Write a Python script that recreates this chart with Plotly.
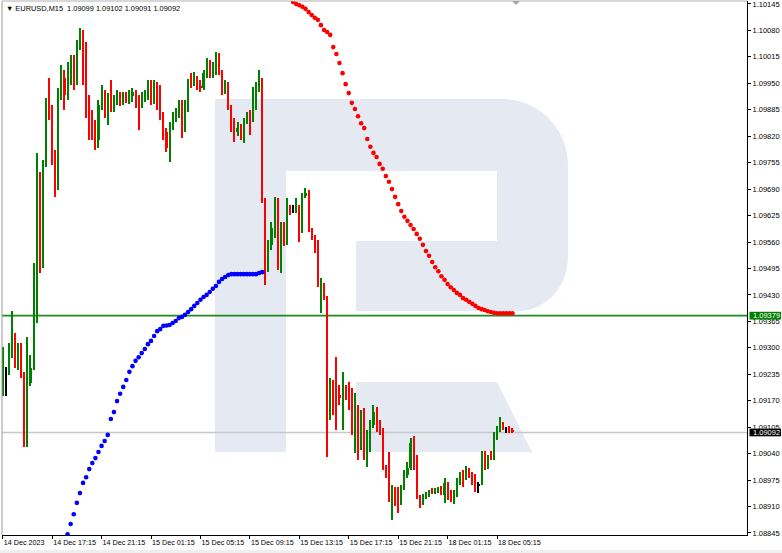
import plotly.graph_objects as go

# ---------------- data (EURUSD M15, bar index 0 = 14 Dec 2023 13:15) ----------------
opens = [1.09189, 1.09242, 1.09238, 1.09287, 1.09324, 1.09255, 1.09268, 1.09231, 1.09059, 1.09214,
         1.09250, 1.09381, 1.09661, 1.09503, 1.09749, 1.09902, 1.09872, 1.09762, 1.09700, 1.09921,
         1.09963, 1.09921, 1.09978, 1.10007, 1.09958, 1.10044, 1.10056, 1.09958, 1.09884, 1.09848,
         1.09828, 1.09811, 1.09897, 1.09921, 1.09884, 1.09909, 1.09889, 1.09909, 1.09916, 1.09904,
         1.09914, 1.09909, 1.09919, 1.09929, 1.09904, 1.09899, 1.09914, 1.09919, 1.09934, 1.09909,
         1.09941, 1.09909, 1.09867, 1.09830, 1.09791, 1.09848, 1.09865, 1.09877, 1.09897, 1.09840,
         1.09884, 1.09953, 1.09948, 1.09963, 1.09943, 1.09939, 1.09975, 1.10000, 1.09978, 1.09983,
         1.10022, 1.09975, 1.09929, 1.09948, 1.09889, 1.09840, 1.09830, 1.09840, 1.09820, 1.09860,
         1.09869, 1.09860, 1.09929, 1.09939, 1.09958, 1.09663, 1.09508, 1.09553, 1.09594, 1.09626,
         1.09496, 1.09597, 1.09558, 1.09644, 1.09641, 1.09639, 1.09644, 1.09602, 1.09673, 1.09681,
         1.09589, 1.09570, 1.09555, 1.09425, 1.09454, 1.09422, 1.09135, 1.09209, 1.09191, 1.09184,
         1.09177, 1.09196, 1.09184, 1.09164, 1.09091, 1.09147, 1.09066, 1.09135, 1.09032, 1.09074,
         1.09110, 1.09142, 1.09103, 1.09098, 1.09004, 1.08987, 1.08926, 1.08930, 1.08919, 1.08919,
         1.08955, 1.08987, 1.09004, 1.09068, 1.09004, 1.08933, 1.08919, 1.08933, 1.08938, 1.08950,
         1.08945, 1.08948, 1.08953, 1.08938, 1.08963, 1.08945, 1.08921, 1.08938, 1.08968, 1.08987,
         1.08982, 1.08999, 1.08987, 1.08982, 1.08963, 1.08968, 1.09041, 1.09007, 1.09041, 1.09029,
         1.09078, 1.09098, 1.09110, 1.09098, 1.09103, 1.09099]
highs = [1.09302, 1.09253, 1.09312, 1.09390, 1.09336, 1.09312, 1.09312, 1.09241, 1.09327, 1.09282,
         1.09508, 1.09779, 1.09732, 1.09762, 1.09914, 1.09963, 1.09897, 1.09786, 1.09939, 1.09995,
         1.09983, 1.10002, 1.10020, 1.10020, 1.10056, 1.10086, 1.10081, 1.10052, 1.09921, 1.09884,
         1.09860, 1.09909, 1.09946, 1.09934, 1.09926, 1.09958, 1.09921, 1.09934, 1.09929, 1.09929,
         1.09929, 1.09934, 1.09939, 1.09934, 1.09921, 1.09929, 1.09934, 1.09958, 1.09958, 1.09958,
         1.09953, 1.09946, 1.09879, 1.09840, 1.09855, 1.09879, 1.09889, 1.09909, 1.09909, 1.09909,
         1.09961, 1.09975, 1.09978, 1.09968, 1.09958, 1.09983, 1.10012, 1.10007, 1.10002, 1.10027,
         1.10025, 1.09983, 1.09958, 1.09953, 1.09897, 1.09865, 1.09855, 1.09850, 1.09865, 1.09879,
         1.09884, 1.09941, 1.09953, 1.09983, 1.09963, 1.09668, 1.09565, 1.09609, 1.09671, 1.09668,
         1.09609, 1.09609, 1.09668, 1.09651, 1.09651, 1.09668, 1.09651, 1.09681, 1.09693, 1.09688,
         1.09594, 1.09577, 1.09565, 1.09471, 1.09459, 1.09427, 1.09226, 1.09221, 1.09277, 1.09209,
         1.09241, 1.09209, 1.09216, 1.09201, 1.09189, 1.09159, 1.09147, 1.09152, 1.09098, 1.09123,
         1.09159, 1.09155, 1.09123, 1.09103, 1.09012, 1.09044, 1.08963, 1.08958, 1.08958, 1.08963,
         1.08999, 1.09019, 1.09078, 1.09083, 1.09036, 1.08938, 1.08940, 1.08945, 1.08950, 1.08955,
         1.08955, 1.08958, 1.08960, 1.08980, 1.08970, 1.08950, 1.08950, 1.08980, 1.08994, 1.08999,
         1.09009, 1.09004, 1.08994, 1.08990, 1.08970, 1.09046, 1.09046, 1.09036, 1.09046, 1.09093,
         1.09108, 1.09130, 1.09118, 1.09105, 1.09108, 1.09102]
lows = [1.09182, 1.09182, 1.09233, 1.09275, 1.09250, 1.09246, 1.09226, 1.09056, 1.09056, 1.09206,
        1.09246, 1.09361, 1.09484, 1.09496, 1.09744, 1.09860, 1.09749, 1.09671, 1.09688, 1.09909,
        1.09884, 1.09909, 1.09946, 1.09934, 1.09946, 1.10032, 1.09946, 1.09865, 1.09811, 1.09811,
        1.09786, 1.09791, 1.09884, 1.09865, 1.09848, 1.09879, 1.09879, 1.09897, 1.09894, 1.09897,
        1.09902, 1.09899, 1.09904, 1.09889, 1.09835, 1.09889, 1.09904, 1.09909, 1.09897, 1.09899,
        1.09884, 1.09860, 1.09811, 1.09781, 1.09757, 1.09835, 1.09855, 1.09865, 1.09815, 1.09830,
        1.09879, 1.09939, 1.09943, 1.09934, 1.09929, 1.09934, 1.09963, 1.09963, 1.09963, 1.09970,
        1.09970, 1.09921, 1.09924, 1.09884, 1.09830, 1.09806, 1.09820, 1.09811, 1.09803, 1.09850,
        1.09823, 1.09855, 1.09884, 1.09929, 1.09656, 1.09454, 1.09486, 1.09540, 1.09570, 1.09491,
        1.09484, 1.09550, 1.09553, 1.09626, 1.09631, 1.09631, 1.09560, 1.09582, 1.09668, 1.09584,
        1.09565, 1.09533, 1.09449, 1.09386, 1.09418, 1.09032, 1.09123, 1.09135, 1.09098, 1.09159,
        1.09098, 1.09172, 1.09147, 1.09086, 1.09041, 1.09024, 1.09049, 1.09024, 1.09007, 1.09044,
        1.09103, 1.09093, 1.09086, 1.08999, 1.08980, 1.08921, 1.08877, 1.08911, 1.08894, 1.08914,
        1.08950, 1.08980, 1.08999, 1.08999, 1.08928, 1.08906, 1.08914, 1.08928, 1.08933, 1.08940,
        1.08940, 1.08943, 1.08938, 1.08919, 1.08926, 1.08921, 1.08916, 1.08933, 1.08963, 1.08958,
        1.08975, 1.08980, 1.08963, 1.08945, 1.08943, 1.08963, 1.08999, 1.09002, 1.09024, 1.09024,
        1.09074, 1.09093, 1.09098, 1.09091, 1.09091, 1.09091]
closes = [1.09246, 1.09242, 1.09290, 1.09324, 1.09255, 1.09270, 1.09231, 1.09059, 1.09214, 1.09250,
          1.09381, 1.09661, 1.09503, 1.09749, 1.09902, 1.09872, 1.09762, 1.09700, 1.09921, 1.09963,
          1.09921, 1.09978, 1.10007, 1.09958, 1.10044, 1.10056, 1.09958, 1.09884, 1.09848, 1.09828,
          1.09811, 1.09897, 1.09921, 1.09884, 1.09909, 1.09889, 1.09909, 1.09916, 1.09904, 1.09914,
          1.09909, 1.09919, 1.09929, 1.09904, 1.09899, 1.09914, 1.09919, 1.09934, 1.09909, 1.09941,
          1.09909, 1.09867, 1.09830, 1.09791, 1.09848, 1.09865, 1.09877, 1.09897, 1.09840, 1.09884,
          1.09953, 1.09948, 1.09963, 1.09943, 1.09939, 1.09975, 1.10000, 1.09978, 1.09983, 1.10022,
          1.09975, 1.09929, 1.09948, 1.09889, 1.09840, 1.09830, 1.09840, 1.09820, 1.09860, 1.09869,
          1.09860, 1.09929, 1.09939, 1.09963, 1.09663, 1.09508, 1.09553, 1.09594, 1.09626, 1.09496,
          1.09597, 1.09558, 1.09644, 1.09634, 1.09641, 1.09658, 1.09602, 1.09673, 1.09681, 1.09589,
          1.09570, 1.09558, 1.09454, 1.09454, 1.09425, 1.09135, 1.09209, 1.09179, 1.09184, 1.09177,
          1.09196, 1.09184, 1.09164, 1.09091, 1.09147, 1.09066, 1.09135, 1.09032, 1.09074, 1.09110,
          1.09142, 1.09098, 1.09093, 1.09004, 1.08987, 1.08926, 1.08955, 1.08919, 1.08914, 1.08955,
          1.08987, 1.09004, 1.09066, 1.09004, 1.08933, 1.08914, 1.08933, 1.08940, 1.08945, 1.08945,
          1.08950, 1.08953, 1.08943, 1.08968, 1.08930, 1.08926, 1.08943, 1.08975, 1.08982, 1.08963,
          1.09004, 1.08987, 1.08980, 1.08968, 1.08963, 1.09041, 1.09007, 1.09029, 1.09029, 1.09086,
          1.09098, 1.09110, 1.09103, 1.09098, 1.09095, 1.09092]

# blue dotted indicator (starts at bar 21)
blue_start = 21
blue_vals = [1.08842, 1.08867, 1.08891, 1.08919, 1.08943, 1.08968, 1.08982, 1.09002, 1.09017, 1.09029,
             1.09044, 1.09059, 1.09071, 1.09086, 1.09125, 1.09142, 1.09169, 1.09187, 1.09204, 1.09221,
             1.09241, 1.09255, 1.09268, 1.09277, 1.09287, 1.09297, 1.09309, 1.09317, 1.09329, 1.09341,
             1.09346, 1.09354, 1.09355, 1.09356, 1.09361, 1.09366, 1.09373, 1.09376, 1.09381, 1.09388,
             1.09395, 1.09403, 1.09410, 1.09418, 1.09425, 1.09430, 1.09437, 1.09445, 1.09452, 1.09462,
             1.09469, 1.09474, 1.09479, 1.09481, 1.09481, 1.09481, 1.09481, 1.09481, 1.09481, 1.09481,
             1.09481, 1.09481, 1.09484, 1.09486]
# red dotted indicator (starts at bar 94)
red_start = 94
red_vals = [1.10150, 1.10145, 1.10142, 1.10138, 1.10133, 1.10125, 1.10118, 1.10111, 1.10106, 1.10093,
            1.10081, 1.10076, 1.10069, 1.10039, 1.10022, 1.10000, 1.09975, 1.09948, 1.09926, 1.09902,
            1.09887, 1.09869, 1.09852, 1.09840, 1.09813, 1.09794, 1.09779, 1.09769, 1.09752, 1.09740,
            1.09722, 1.09708, 1.09690, 1.09671, 1.09653, 1.09636, 1.09622, 1.09612, 1.09602, 1.09592,
            1.09580, 1.09568, 1.09553, 1.09538, 1.09526, 1.09511, 1.09498, 1.09488, 1.09476, 1.09467,
            1.09457, 1.09449, 1.09442, 1.09435, 1.09430, 1.09422, 1.09418, 1.09413, 1.09408, 1.09403,
            1.09398, 1.09395, 1.09393, 1.09390, 1.09388, 1.09386, 1.09385, 1.09385, 1.09385, 1.09385,
            1.09385, 1.09385]

x_tick_idx = [0, 16, 32, 48, 64, 80, 96, 112, 128, 144, 160]
x_tick_text = ["14 Dec 2023", "14 Dec 17:15", "14 Dec 21:15", "15 Dec 01:15", "15 Dec 05:15",
               "15 Dec 09:15", "15 Dec 13:15", "15 Dec 17:15", "15 Dec 21:15", "18 Dec 01:15",
               "18 Dec 05:15"]
y_tick_vals = [1.08845, 1.08910, 1.08975, 1.09040, 1.09105, 1.09170, 1.09235, 1.09300, 1.09365,
               1.09430, 1.09495, 1.09560, 1.09625, 1.09690, 1.09755, 1.09820, 1.09885, 1.09950,
               1.10015, 1.10080, 1.10145]
green_level = 1.09379
bid_level = 1.09092
header = "▼ EURUSD,M15\u00a0\u00a01.09099 1.09102 1.09091 1.09092"

# ---------------- styling ----------------
UP, DN, DOJI = "#008000", "#ff0000", "#000000"
FONT = "Liberation Sans, Arial, sans-serif"
LOGO = "#e4e9f2"

# plot area in pixels (for decorative shapes only)
PL, PT, PW, PH = 2, 1, 745, 534


def paper(px, py):
    return (px - PL) / PW, (PT + PH - py) / PH


def path(cmds):
    out = []
    for c in cmds:
        if c[0] == "Z":
            out.append("Z")
            continue
        pts = " ".join("%.5f,%.5f" % paper(*p) for p in c[1:])
        out.append(c[0] + pts)
    return " ".join(out)


n = len(opens)
xs = list(range(n))
colors = [UP if c > o else (DN if c < o else DOJI) for o, c in zip(opens, closes)]
body_base = []
body_h = []
for o, c in zip(opens, closes):
    if o == c:
        body_base.append(o - 0.00001)
        body_h.append(0.00002)
    else:
        body_base.append(min(o, c))
        body_h.append(abs(c - o))
wick_h = [h - l for h, l in zip(highs, lows)]

fig = go.Figure()
fig.add_trace(go.Bar(x=xs, y=wick_h, base=lows, width=0.34,
                     marker=dict(color=colors, line=dict(width=0)), hoverinfo="skip"))
fig.add_trace(go.Bar(x=xs, y=body_h, base=body_base, width=0.68,
                     marker=dict(color=colors, line=dict(width=0)), hoverinfo="skip"))
fig.add_trace(go.Scatter(x=list(range(blue_start, blue_start + len(blue_vals))), y=blue_vals,
                         mode="markers", marker=dict(color="#0000ff", size=4.6, line=dict(width=0))))
fig.add_trace(go.Scatter(x=list(range(red_start, red_start + len(red_vals))), y=red_vals,
                         mode="markers", marker=dict(color="#ff0000", size=4.6, line=dict(width=0))))

k = 0.5523
shapes = []
# watermark logo
x0, y0 = paper(215, 452)
x1, y1 = paper(286, 99)
shapes.append(dict(type="rect", xref="paper", yref="paper", x0=x0, y0=y0, x1=x1, y1=y1,
                   fillcolor=LOGO, line=dict(width=0), layer="below"))
shapes.append(dict(type="path", xref="paper", yref="paper", layer="below", fillcolor=LOGO,
                   line=dict(width=0),
                   path=path([("M", (286, 99)), ("L", (502, 99)),
                              ("C", (502 + 66 * k, 99), (568, 165 - 66 * k), (568, 165)),
                              ("L", (568, 257)),
                              ("C", (568, 257 + 54 * k), (518 + 50 * k, 311), (518, 311)),
                              ("L", (356, 311)), ("L", (356, 241)), ("L", (497, 241)),
                              ("L", (497, 171)), ("L", (286, 171)), ("Z",)])))
shapes.append(dict(type="path", xref="paper", yref="paper", layer="below", fillcolor=LOGO,
                   line=dict(width=0),
                   path=path([("M", (356, 382)), ("L", (497, 382)), ("L", (532, 452)),
                              ("L", (356, 452)), ("Z",)])))
# horizontal levels
shapes.append(dict(type="line", xref="paper", yref="y", x0=0, x1=1, y0=green_level, y1=green_level,
                   line=dict(color="#1f8a1f", width=1.6), layer="below"))
shapes.append(dict(type="line", xref="paper", yref="y", x0=0, x1=1, y0=bid_level, y1=bid_level,
                   line=dict(color="#c8c8c8", width=1.4), layer="below"))
# frame (left/top)
shapes.append(dict(type="line", xref="paper", yref="paper", x0=0, x1=0, y0=0, y1=1,
                   line=dict(color="#9a9a9a", width=1)))
shapes.append(dict(type="line", xref="paper", yref="paper", x0=0, x1=1, y0=1, y1=1,
                   line=dict(color="#b0b0b0", width=1)))
# chart shift marker
shapes.append(dict(type="path", xref="paper", yref="paper", fillcolor="#a8a8a8", line=dict(width=0),
                   path=path([("M", (512, 1)), ("L", (520, 1)), ("L", (516, 5)), ("Z",)])))
# bottom strip
bx0, by0 = paper(-2, 550)
bx1, by1 = paper(790, 556)
shapes.append(dict(type="rect", xref="paper", yref="paper", x0=bx0, y0=by0, x1=bx1, y1=by1,
                   fillcolor="#efefef", line=dict(width=0)))
# price label boxes
lx0, _ = paper(749.5, 0)
lx1, _ = paper(781, 0)
for lvl, col in ((green_level, "#008000"), (bid_level, "#000000")):
    shapes.append(dict(type="rect", xref="paper", yref="y", x0=lx0, x1=lx1,
                       y0=lvl - 0.000095, y1=lvl + 0.000095, fillcolor=col,
                       line=dict(width=0), layer="above"))

annotations = []
for lvl in (green_level, bid_level):
    annotations.append(dict(xref="paper", yref="y", x=paper(751, 0)[0], y=lvl, xanchor="left",
                            yanchor="middle", showarrow=False, text="%.5f" % lvl,
                            font=dict(family=FONT, size=7.5, color="#ffffff")))
hx, hy = paper(4, 8)
annotations.append(dict(xref="paper", yref="paper", x=hx, y=hy, xanchor="left", yanchor="middle",
                        showarrow=False, text=header,
                        font=dict(family=FONT, size=7.4, color="#000000")))

fig.update_layout(
    width=782, height=553, autosize=False,
    margin=dict(l=PL, r=782 - PL - PW, t=PT, b=553 - PT - PH, pad=0),
    paper_bgcolor="#ffffff", plot_bgcolor="#ffffff",
    showlegend=False, barmode="overlay", bargap=0,
    shapes=shapes, annotations=annotations,
    font=dict(family=FONT, size=7.5, color="#000000"),
    xaxis=dict(range=[-0.23, 240.9], tickmode="array", tickvals=x_tick_idx, ticktext=x_tick_text,
               ticks="outside", ticklen=3, tickcolor="#000000", showline=True, linecolor="#000000",
               linewidth=1, showgrid=False, zeroline=False, ticklabelposition="outside right",
               tickangle=0, ticklabeloverflow="allow",
               tickfont=dict(family=FONT, size=7.2, color="#000000"), automargin=False, fixedrange=True),
    yaxis=dict(range=[1.08840, 1.101523], side="right", tickmode="array", tickvals=y_tick_vals,
               ticktext=["%.5f" % v for v in y_tick_vals], ticks="outside", ticklen=3,
               tickcolor="#000000", showline=True, linecolor="#000000", linewidth=1,
               showgrid=False, zeroline=False, automargin=False, fixedrange=True,
               ticklabeloverflow="allow",
               tickfont=dict(family=FONT, size=7.5, color="#000000")),
)

fig.write_html("out.html", config={"displayModeBar": False},
               post_script="document.body.style.margin='0';document.body.style.overflow='hidden';")
